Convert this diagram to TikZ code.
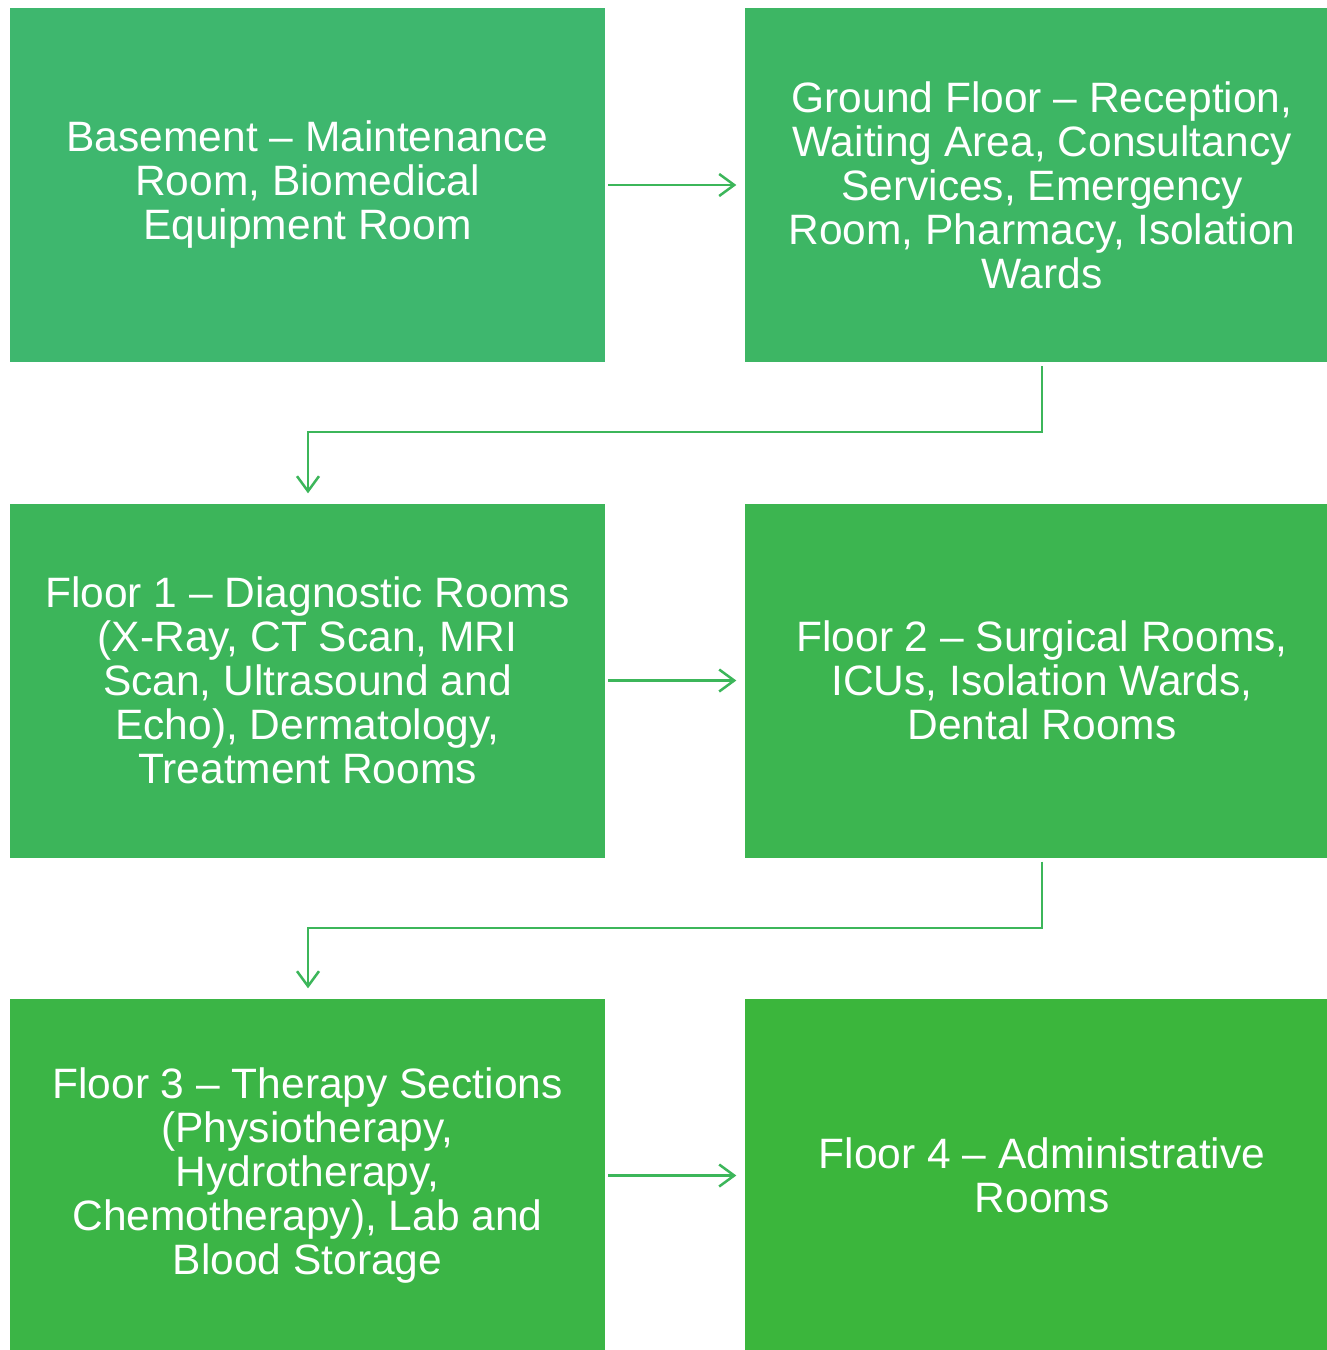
\documentclass[tikz,border=0pt]{standalone}
\usepackage{fontspec}
\setmainfont{Liberation Sans}
\usetikzlibrary{arrows.meta}
\definecolor{c1}{RGB}{62,183,110}
\definecolor{c2}{RGB}{61,182,100}
\definecolor{c3}{RGB}{60,181,90}
\definecolor{c4}{RGB}{60,181,80}
\definecolor{c5}{RGB}{59,181,70}
\definecolor{c6}{RGB}{59,182,60}
\definecolor{ln}{RGB}{60,182,90}
\tikzset{
  floorbox/.style={rectangle, draw=none, minimum width=595pt, minimum height=354pt,
    inner sep=0pt, text=white, align=center,
    font=\fontsize{42.5}{44}\selectfont},
  conn/.style={draw=ln, line width=2.5pt, -{Straight Barb[length=15pt,width=22pt]}}
}
\begin{document}
\begin{tikzpicture}[x=1pt,y=-1pt]
\useasboundingbox[fill=white] (0,0) rectangle (1327,1350);
\node[floorbox, fill=c1] (b0) at (307.5,185) {Basement – Maintenance\\Room, Biomedical\\Equipment Room};
\node[floorbox, fill=c2] (b1) at (1042,185) {Ground Floor – Reception,\\Waiting Area, Consultancy\\Services, Emergency\\Room, Pharmacy, Isolation\\Wards};
\node[floorbox, fill=c3] (b2) at (307.5,680.5) {Floor 1 – Diagnostic Rooms\\(X-Ray, CT Scan, MRI\\Scan, Ultrasound and\\Echo), Dermatology,\\Treatment Rooms};
\node[floorbox, fill=c4] (b3) at (1042,680.5) {Floor 2 – Surgical Rooms,\\ICUs, Isolation Wards,\\Dental Rooms};
\node[floorbox, fill=c5] (b4) at (307.5,1175.5) {Floor 3 – Therapy Sections\\(Physiotherapy,\\Hydrotherapy,\\Chemotherapy), Lab and\\Blood Storage};
\node[floorbox, fill=c6] (b5) at (1042,1175.5) {Floor 4 – Administrative\\Rooms};
\coordinate (k1) at (1042,432);
\coordinate (k2) at (308,432);
\coordinate (k3) at (1042,928);
\coordinate (k4) at (308,928);
\draw[conn] ([xshift=3pt]b0.east) -- ([xshift=-8pt]b1.west);
\draw[conn] ([yshift=-4pt]b1.south) -- (k1) -- (k2) -- ([yshift=10pt]k2 |- b2.north);
\draw[conn] ([xshift=3pt]b2.east) -- ([xshift=-8pt]b3.west);
\draw[conn] ([yshift=-4pt]b3.south) -- (k3) -- (k4) -- ([yshift=10pt]k4 |- b4.north);
\draw[conn] ([xshift=3pt]b4.east) -- ([xshift=-8pt]b5.west);
\end{tikzpicture}
\end{document}
